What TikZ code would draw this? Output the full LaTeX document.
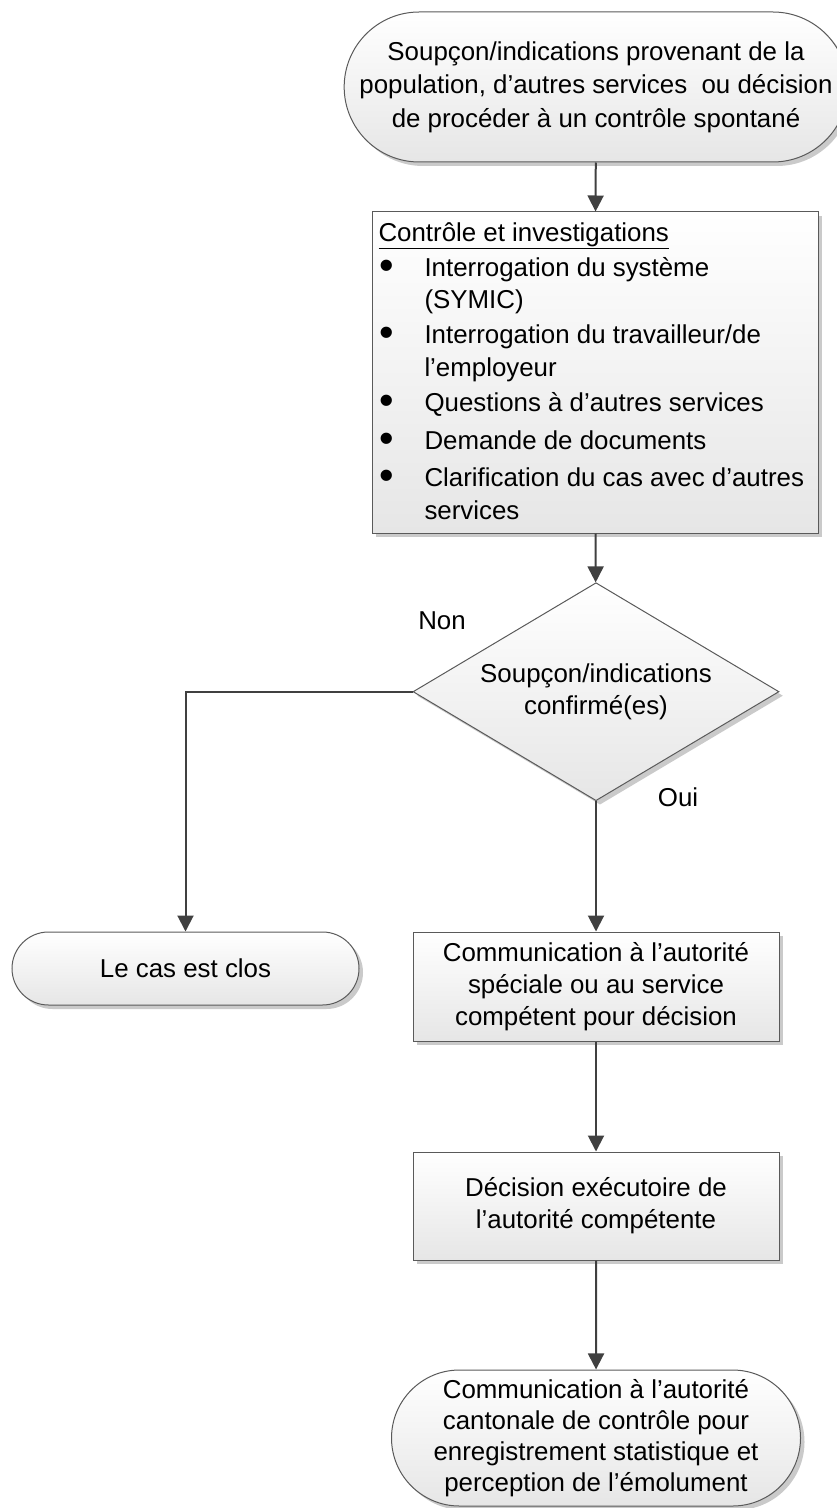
\documentclass[tikz,border=0pt]{standalone}
\usepackage{fontspec}
\usepackage{graphicx}
\setmainfont{Liberation Sans}
\usetikzlibrary{arrows.meta,shapes.geometric,shapes.misc,shadows}

\definecolor{flowline}{HTML}{404040}
\definecolor{flowedge}{HTML}{5A5A5A}
\definecolor{flowshade}{HTML}{E6E6E6}
\definecolor{flowshadow}{HTML}{CACACA}

\newcommand{\bul}{\makebox[34.5pt][l]{\hspace{0.5pt}\raisebox{-2.2pt}{\scalebox{1.6}{\textbullet}}}}
\newcommand{\ind}{\hspace*{34.5pt}}

\tikzset{every picture/.style={line width=0.75pt}}
\tikzset{
	flowshape/.style={draw=flowedge, line width=0.75pt, top color=white, bottom color=flowshade,
		drop shadow={shadow xshift=3pt, shadow yshift=-3pt, fill=flowshadow, opacity=1},
		font=\fontsize{19.4pt}{24pt}\selectfont, align=center, inner sep=0pt},
	termbox/.style={flowshape, rounded rectangle},
	procbox/.style={flowshape, rectangle},
	decbox/.style={flowshape, diamond, aspect=1.68},
	flowarrow/.style={draw=flowline, line width=1.5pt, -{Triangle[length=12pt,width=12pt]}},
	flowlabel/.style={font=\fontsize{19.4pt}{24pt}\selectfont, inner sep=0pt}
}

\begin{document}
\begin{tikzpicture}[x=0.75pt,y=0.75pt,yscale=-1,xscale=1]
			\useasboundingbox (0,0) rectangle (837,1508);
			
			%Shape: Terminator [id:start]
			\node [termbox, minimum width=361.5pt, minimum height=112.5pt, font=\fontsize{19.4pt}{25pt}\selectfont] (soupcon) at (596,87) {Soupçon/indications provenant de la\\population, d’autres services\ \ ou décision\\de procéder à un contrôle spontané};
			%Shape: Rectangle [id:ctrl]
			\node [procbox, minimum width=334.5pt, minimum height=240.75pt] (ctrl) at (595,372.5) {};
			% Text Node
			\node [flowlabel, anchor=north west, align=left, font=\fontsize{19.4pt}{24.4pt}\selectfont] (ctrllist) at (378,222) {\underline{Contrôle et investigations}\\[1.9pt]
				\bul Interrogation du système\\
				\ind (SYMIC)\\[1.9pt]
				\bul Interrogation du travailleur/de\\
				\ind l’employeur\\[1.9pt]
				\bul Questions à d’autres services\\[3.8pt]
				\bul Demande de documents\\[3.8pt]
				\bul Clarification du cas avec d’autres\\
				\ind services};
			%Shape: Diamond [id:dec]
			\node [decbox, minimum width=274.5pt, minimum height=163.5pt] (dec) at (596,691.7) {Soupçon/indications\\confirmé(es)};
			% Text Node
			\node [flowlabel] (non) at (442,621) {Non};
			% Text Node
			\node [flowlabel] (oui) at (678,797) {Oui};
			%Shape: Terminator [id:clos]
			\node [termbox, minimum width=260.25pt, minimum height=54.75pt] (clos) at (185.5,968.5) {Le cas est clos};
			%Shape: Rectangle [id:comm]
			\node [procbox, minimum width=274.5pt, minimum height=81.75pt] (comm) at (596,986.5) {Communication à l’autorité\\spéciale ou au service\\compétent pour décision};
			%Shape: Rectangle [id:decis]
			\node [procbox, minimum width=274.5pt, minimum height=81pt] (decis) at (596,1206) {Décision exécutoire de\\l’autorité compétente};
			%Shape: Terminator [id:stat]
			\node [termbox, minimum width=306.75pt, minimum height=102pt, font=\fontsize{19.4pt}{23.3pt}\selectfont] (stat) at (596,1438) {Communication à l’autorité\\cantonale de contrôle pour\\enregistrement statistique et\\perception de l’émolument};
			
			%Straight Lines
			\draw [flowarrow] (soupcon) -- (ctrl);
			\draw [flowarrow] (ctrl) -- (dec);
			\draw [flowarrow] (dec.west) -| (clos.north);
			\draw [flowarrow] (dec) -- (comm);
			\draw [flowarrow] (comm) -- (decis);
			\draw [flowarrow] (decis) -- (stat);
			
		\end{tikzpicture}
\end{document}
